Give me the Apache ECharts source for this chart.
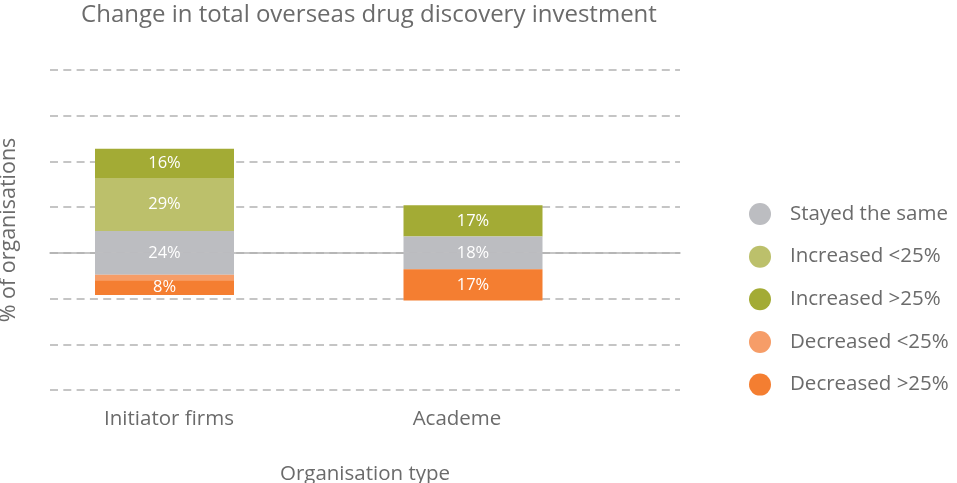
<!DOCTYPE html>
<html>
<head>
<meta charset="utf-8">
<script src="https://cdn.jsdelivr.net/npm/echarts@6/dist/echarts.min.js"></script>
<style>
  html, body { margin: 0; padding: 0; background: #fff; }
  #chart { width: 957px; height: 483px; }
</style>
</head>
<body>
<div id="chart"></div>
<script>
// Organisation types on the x axis
const categories = ['Initiator firms', 'Academe'];

// Share of organisations (%) per change bucket
const stayedSame = [24, 18];
const increasedUnder25 = [29, 0];
const increasedOver25 = [16, 17];
const decreasedUnder25 = [3, 0];
const decreasedOver25 = [8, 17];

// Value axis range and step (%)
const yMin = -75;
const yMax = 100;
const yStep = 25;

const colors = {
  same: '#bcbdc1',
  incLow: '#bcc06b',
  incHigh: '#a3ab35',
  decLow: '#f69d68',
  decHigh: '#f47e31'
};

const textGrey = '#6b6b6b';
const font = 'Open Sans';

// "Stayed the same" straddles the zero line: half above, half below
const sameUp = stayedSame.map(v => v / 2);
const sameDown = stayedSame.map(v => -v / 2);
const negate = arr => arr.map(v => -v);

const pctLabel = (values) => ({
  show: true,
  color: '#fff',
  fontFamily: font,
  fontSize: 16.5,
  formatter: p => values[p.dataIndex] ? values[p.dataIndex] + '%' : ''
});

// Growth buckets stack upward, decline buckets stack downward; both stacks share one slot
const barCommon = {
  type: 'bar',
  xAxisIndex: 1,
  yAxisIndex: 1,
  barWidth: 139,
  barGap: '-100%',
  emphasis: { disabled: true }
};

const chart = echarts.init(document.getElementById('chart'), null, { renderer: 'canvas' });

chart.setOption({
  animation: false,
  title: {
    text: 'Change in total overseas drug discovery investment',
    left: 364,
    top: -2,
    textAlign: 'center',
    textStyle: { fontFamily: font, fontSize: 24, fontWeight: 'normal', color: textGrey }
  },
  legend: {
    orient: 'vertical',
    left: 744,
    top: 198,
    itemWidth: 22,
    itemHeight: 22,
    itemGap: 20.65,
    icon: 'circle',
    selectedMode: false,
    data: ['Stayed the same', 'Increased <25%', 'Increased >25%', 'Decreased <25%', 'Decreased >25%'],
    textStyle: { fontFamily: font, fontSize: 20.5, color: textGrey, padding: [0, 0, 0, 14] }
  },
  grid: [
    // frame carrying the gridlines and axis names
    { left: 50, right: 277, top: 70, bottom: 93, outerBoundsMode: 'none', containLabel: false },
    // frame carrying the bars
    { left: 10.25, right: 329.75, top: 70, bottom: 93, outerBoundsMode: 'none', containLabel: false }
  ],
  xAxis: [
    {
      type: 'category',
      gridIndex: 0,
      data: categories,
      axisLine: { show: true, onZero: true, lineStyle: { color: '#b3b3b3', width: 1.5 } },
      axisTick: { show: false },
      axisLabel: { show: false },
      splitLine: { show: false },
      name: 'Organisation type',
      nameLocation: 'middle',
      nameGap: 73.5,
      nameTextStyle: { fontFamily: font, fontSize: 20.5, color: textGrey }
    },
    {
      type: 'category',
      gridIndex: 1,
      data: categories,
      axisLine: { show: false },
      axisTick: { show: false },
      splitLine: { show: false },
      axisLabel: {
        margin: 18,
        formatter: (v, i) => (i === 0 ? '{a|' : '{b|') + v + '}',
        rich: {
          a: { fontFamily: font, fontSize: 20.5, color: textGrey, lineHeight: 22, padding: [0, 0, 0, 9] },
          b: { fontFamily: font, fontSize: 20.5, color: textGrey, lineHeight: 22, padding: [0, 32, 0, 0] }
        }
      }
    }
  ],
  yAxis: [
    {
      type: 'value',
      gridIndex: 0,
      min: yMin,
      max: yMax,
      interval: yStep,
      axisLine: { show: false },
      axisTick: { show: false },
      axisLabel: { show: false },
      splitLine: { show: true, lineStyle: { color: '#b3b3b3', width: 1.5, type: [8, 5.3] } },
      name: '% of organisations',
      nameLocation: 'middle',
      nameGap: 30,
      nameTextStyle: { fontFamily: font, fontSize: 21.5, color: textGrey }
    },
    {
      type: 'value',
      gridIndex: 1,
      min: yMin,
      max: yMax,
      interval: yStep,
      show: false,
      splitLine: { show: false }
    }
  ],
  series: [
    Object.assign({}, barCommon, {
      name: 'Stayed the same',
      id: 'same-up',
      stack: 'up',
      z: 3,
      data: sameUp,
      itemStyle: { color: colors.same },
      label: Object.assign(pctLabel(stayedSame), {
        position: 'insideBottom',
        distance: 0,
        lineHeight: 16,
        offset: [0, 8]
      })
    }),
    Object.assign({}, barCommon, {
      name: 'Increased <25%',
      stack: 'up',
      data: increasedUnder25,
      itemStyle: { color: colors.incLow },
      label: Object.assign(pctLabel(increasedUnder25), { position: 'inside' })
    }),
    Object.assign({}, barCommon, {
      name: 'Increased >25%',
      stack: 'up',
      data: increasedOver25,
      itemStyle: { color: colors.incHigh },
      label: Object.assign(pctLabel(increasedOver25), { position: 'inside' })
    }),
    Object.assign({}, barCommon, {
      name: 'Stayed the same',
      id: 'same-down',
      stack: 'down',
      data: sameDown,
      itemStyle: { color: colors.same },
      label: { show: false }
    }),
    Object.assign({}, barCommon, {
      name: 'Decreased <25%',
      stack: 'down',
      data: negate(decreasedUnder25),
      itemStyle: { color: colors.decLow },
      label: { show: false }
    }),
    Object.assign({}, barCommon, {
      name: 'Decreased >25%',
      stack: 'down',
      data: negate(decreasedOver25),
      itemStyle: { color: colors.decHigh },
      label: Object.assign(pctLabel(decreasedOver25), { position: 'inside' })
    })
  ]
});
</script>
</body>
</html>
